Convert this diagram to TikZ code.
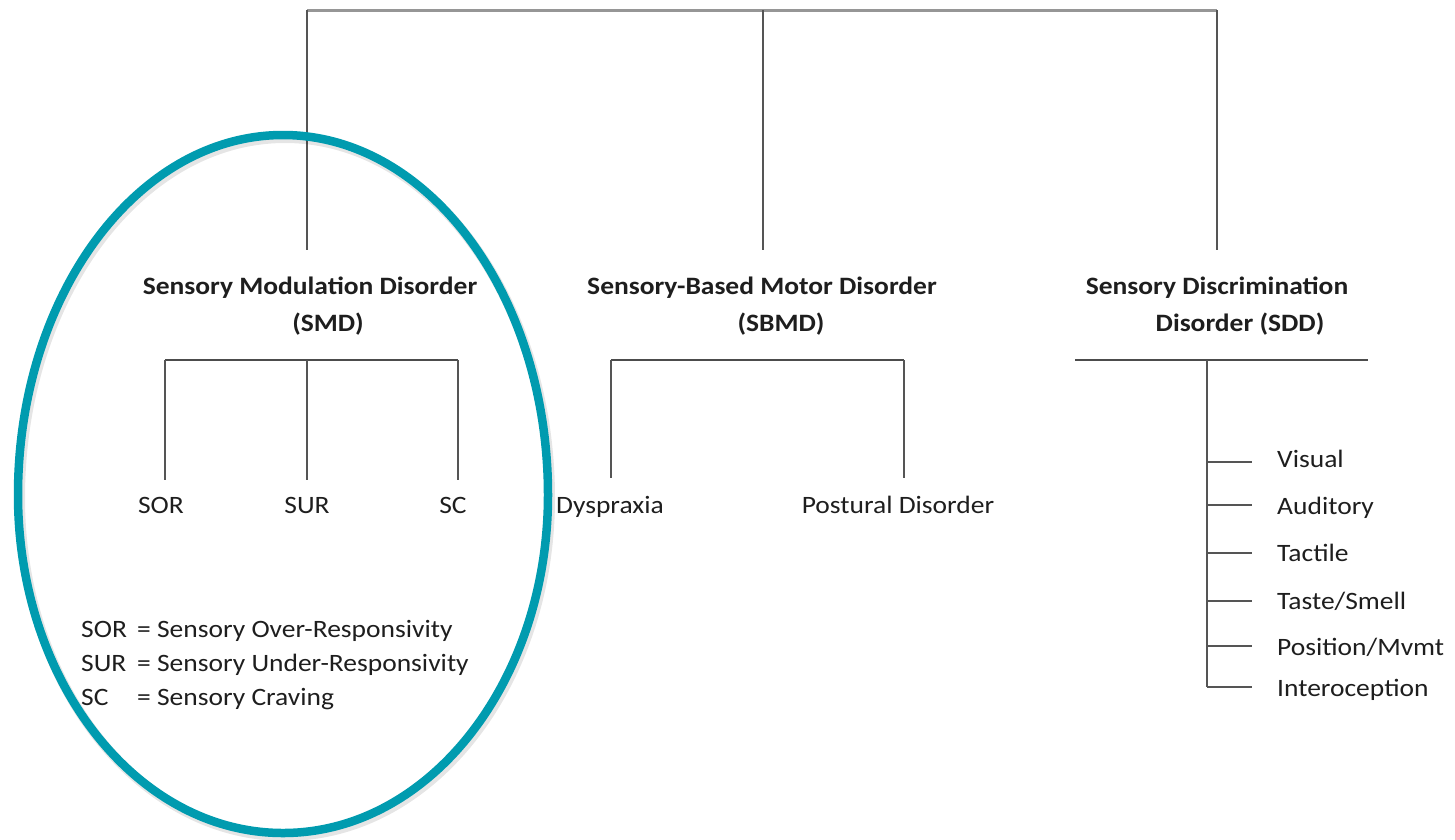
\documentclass[tikz,border=0pt]{standalone}
\usepackage{fontspec}
\setmainfont{Carlito}[FakeStretch=1.1]
\definecolor{ring}{RGB}{0,155,175}
\definecolor{ink}{RGB}{30,30,30}
\definecolor{ln}{RGB}{85,85,85}
\definecolor{topln}{RGB}{150,150,150}
\begin{document}
\begin{tikzpicture}[x=1pt,y=-1pt,
  lbl/.style={anchor=base,inner sep=0pt,text=ink,font=\fontsize{25}{34}\selectfont},
  lblw/.style={lbl,anchor=base west},
  hdr/.style={lbl,font=\fontsize{25}{37}\selectfont\bfseries},
  conn/.style={draw=ln,line width=1.5pt},
  bar/.style={draw=ln!90!black,line width=2.5pt},
  topbar/.style={draw=topln,line width=3pt},
  ringline/.style={draw=ring,line width=8.5pt},
  ringshadow/.style={draw=black,opacity=0.10,line width=10pt}]
\useasboundingbox (0,0) rectangle (1455,839);

% top level
\coordinate (t1) at (307,10);
\coordinate (t2) at (763,10);
\coordinate (t3) at (1217,10);
\coordinate (smdT) at (307,250);
\coordinate (sbmdT) at (763,250);
\coordinate (sddT) at (1217,250);
\draw[topbar] (t1) -- (t3);
\draw[conn] (t1) -- (smdT);
\draw[conn] (t2) -- (sbmdT);
\draw[conn] (t3) -- (sddT);

% headings
\node[hdr] (smd1) at (310,294) {Sensory Modulation Disorder};
\node[hdr] (smd2) at (328,331) {(SMD)};
\node[hdr] (sbmd1) at (762,294) {Sensory-Based Motor Disorder};
\node[hdr] (sbmd2) at (781,331) {(SBMD)};
\node[hdr] (sdd1) at (1217,294) {Sensory Discrimination};
\node[hdr] (sdd2) at (1240,331) {Disorder (SDD)};

% SMD branch
\coordinate (smdL) at (165,360);
\coordinate (smdM) at (307,360);
\coordinate (smdR) at (458,360);
\coordinate (sorE) at (165,480);
\coordinate (surE) at (307,480);
\coordinate (scE) at (458,480);
\draw[bar] (smdL) -- (smdR);
\draw[conn] (smdL) -- (sorE);
\draw[conn] (smdM) -- (surE);
\draw[conn] (smdR) -- (scE);
\node[lbl] (sor) at (161,513) {SOR};
\node[lbl] (sur) at (307,513) {SUR};
\node[lbl] (sc) at (453,513) {SC};

% SBMD branch
\coordinate (sbL) at (611,360);
\coordinate (sbR) at (904,360);
\coordinate (dysE) at (611,478);
\coordinate (posE) at (904,478);
\draw[bar] (sbL) -- (sbR);
\draw[conn] (sbL) -- (dysE);
\draw[conn] (sbR) -- (posE);
\node[lbl] (dys) at (610,513) {Dyspraxia};
\node[lbl] (pos) at (898,513) {Postural Disorder};

% SDD branch
\coordinate (sdL) at (1075,360);
\coordinate (sdR) at (1368,360);
\coordinate (sdV) at (1207,360);
\coordinate (sdB) at (1207,687);
\draw[bar] (sdL) -- (sdR);
\draw[conn] (sdV) -- (sdB);
\foreach \n/\ty/\by/\txt in {vis/462/467/Visual, aud/505/514/Auditory, tac/553/561/Tactile, tas/601/609/Taste\slash Smell, psn/646/655/Position\slash Mvmt, int/687/696/Interoception}{
  \coordinate (\n a) at (1207,\ty);
  \coordinate (\n b) at (1252,\ty);
  \draw[conn] (\n a) -- (\n b);
  \node[lblw] (\n) at (1277,\by) {\txt};
}

% legend
\node[lblw] (k1) at (81,637) {SOR};
\node[lblw] (d1) at (137,637) {= Sensory Over-Responsivity};
\node[lblw] (k2) at (81,671) {SUR};
\node[lblw] (d2) at (137,671) {= Sensory Under-Responsivity};
\node[lblw] (k3) at (81,705) {SC};
\node[lblw] (d3) at (137,705) {= Sensory Craving};

% highlight ring (slightly egg-shaped)
\coordinate (ringE) at (548,495);
\coordinate (ringS) at (550,498);
\draw[ringshadow] (ringS) arc[start angle=0,end angle=180,x radius=265,y radius=338]
  arc[start angle=180,end angle=360,x radius=265,y radius=360] -- cycle;
\draw[ringline] (ringE) arc[start angle=0,end angle=180,x radius=265,y radius=338]
  arc[start angle=180,end angle=360,x radius=265,y radius=360] -- cycle;
\end{tikzpicture}
\end{document}
